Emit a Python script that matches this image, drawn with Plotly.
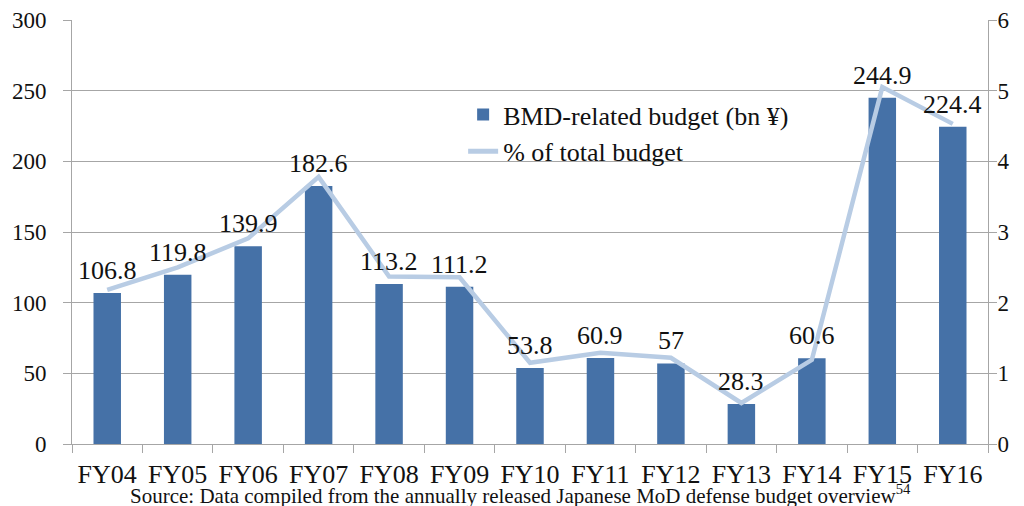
import plotly.graph_objects as go

categories = ["FY04", "FY05", "FY06", "FY07", "FY08", "FY09", "FY10",
              "FY11", "FY12", "FY13", "FY14", "FY15", "FY16"]
budget_bn_yen = [106.8, 119.8, 139.9, 182.6, 113.2, 111.2, 53.8,
                 60.9, 57, 28.3, 60.6, 244.9, 224.4]
pct_of_total = [2.18, 2.50, 2.91, 3.78, 2.37, 2.36, 1.15,
                1.29, 1.22, 0.58, 1.19, 5.05, 4.53]
label_texts = ["106.8", "119.8", "139.9", "182.6", "113.2", "111.2", "53.8",
               "60.9", "57", "28.3", "60.6", "244.9", "224.4"]
left_ticks = [0, 50, 100, 150, 200, 250, 300]
right_ticks = [0, 1, 2, 3, 4, 5, 6]

FONT = "Times New Roman, Liberation Serif, DejaVu Serif, serif"
BAR_COLOR = "#4571a7"
LINE_COLOR = "#b8cce4"
GRID = "#a6a6a6"
TXT = "#111111"

fig = go.Figure()
fig.add_trace(go.Bar(
    x=categories, y=budget_bn_yen, name="BMD-related budget (bn ¥)",
    marker=dict(color=BAR_COLOR, line=dict(width=0)), yaxis="y",
))
fig.add_trace(go.Scatter(
    x=categories, y=pct_of_total, name="% of total budget", mode="lines",
    line=dict(color=LINE_COLOR, width=4.5), yaxis="y2",
))

annotations = []
for c, v, t in zip(categories, budget_bn_yen, label_texts):
    annotations.append(dict(
        x=c, y=v, xref="x", yref="y", text=t, showarrow=False,
        yanchor="bottom", yshift=6,
        font=dict(family=FONT, size=26, color=TXT),
    ))
annotations.append(dict(
    x=0.49, y=-0.118, xref="paper", yref="paper", xanchor="center", yanchor="middle",
    text="Source: Data compiled from the annually released Japanese MoD defense budget overview<sup>54</sup>",
    showarrow=False, font=dict(family=FONT, size=21, color=TXT),
))

# page body has an 8px margin: figure is made 8px smaller and margins shifted
fig.update_layout(
    width=1016, height=498,
    margin=dict(l=64, r=36, t=12, b=62, autoexpand=False),
    paper_bgcolor="white", plot_bgcolor="white",
    bargap=0.61,
    font=dict(family=FONT, size=23, color=TXT),
    showlegend=True,
    legend=dict(x=0.427, y=0.8325, xanchor="left", yanchor="top",
                bgcolor="rgba(0,0,0,0)", font=dict(family=FONT, size=26, color=TXT),
                tracegroupgap=0, itemsizing="constant"),
    xaxis=dict(
        showgrid=False, showline=True, linecolor=GRID, linewidth=1,
        ticks="outside", ticklen=8, tickcolor=GRID, tickson="boundaries",
        tickfont=dict(family=FONT, size=26, color=TXT), automargin=False,
        ticklabelstandoff=7,
    ),
    yaxis=dict(
        range=[0, 300], tickvals=left_ticks, showgrid=True, gridcolor=GRID, gridwidth=1,
        showline=True, linecolor=GRID, linewidth=1, ticks="outside", ticklen=8,
        tickcolor=GRID, zeroline=False, ticklabelstandoff=12, automargin=False,
        tickfont=dict(family=FONT, size=23, color=TXT),
    ),
    yaxis2=dict(
        range=[0, 6], tickvals=right_ticks, overlaying="y", side="right", showgrid=False,
        showline=True, linecolor=GRID, linewidth=1, ticks="outside", ticklen=8,
        tickcolor=GRID, zeroline=False, ticklabelstandoff=-4, automargin=False,
        tickfont=dict(family=FONT, size=23, color=TXT),
    ),
    annotations=annotations,
)

fig.write_html("out.html")
